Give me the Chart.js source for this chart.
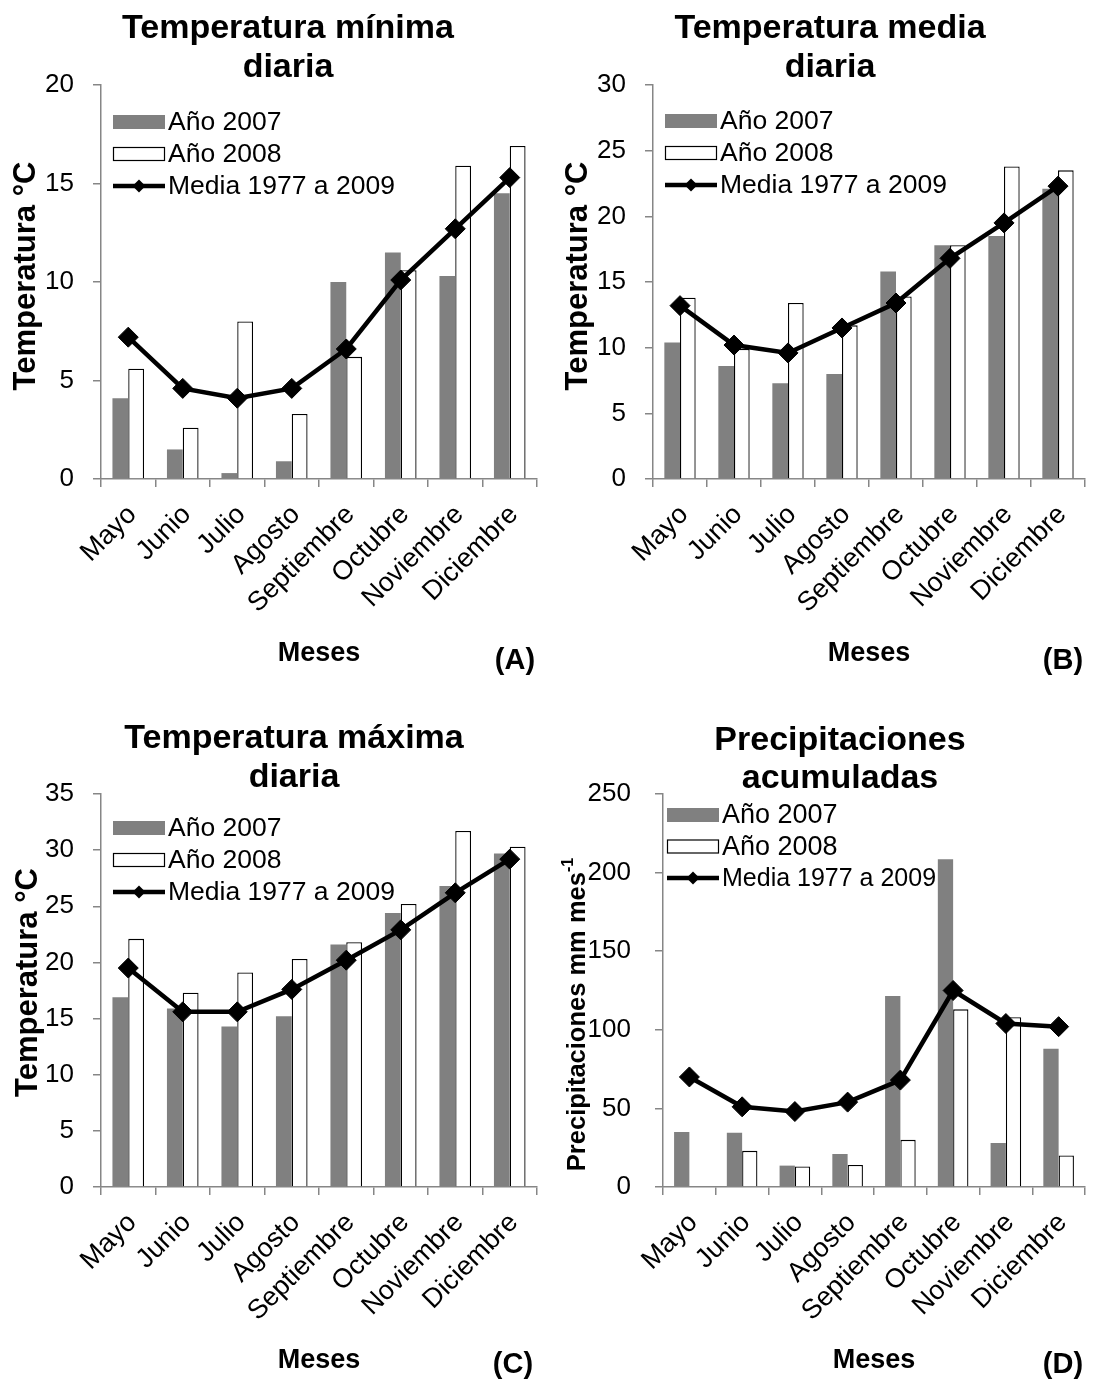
<!DOCTYPE html>
<html><head><meta charset="utf-8">
<script src="https://cdn.jsdelivr.net/npm/chart.js@4.4.1/dist/chart.umd.min.js"></script>
<style>
html,body{margin:0;padding:0;background:#fff;}
#wrap{position:relative;width:1096px;height:1380px;background:#fff;}
.panel{position:absolute;width:548px;height:690px;}
canvas{display:block;}
</style></head><body>
<div id="wrap">
<div class="panel" style="left:0;top:0"><canvas id="cA" width="548" height="690"></canvas></div>
<div class="panel" style="left:548px;top:0"><canvas id="cB" width="548" height="690"></canvas></div>
<div class="panel" style="left:0;top:690px"><canvas id="cC" width="548" height="690"></canvas></div>
<div class="panel" style="left:548px;top:690px"><canvas id="cD" width="548" height="690"></canvas></div>
</div>
<script>
// ---- Data ----
const months = ['Mayo','Junio','Julio','Agosto','Septiembre','Octubre','Noviembre','Diciembre'];
const seriesNames = ['Año 2007','Año 2008','Media 1977 a 2009'];

// (A) Temperatura mínima diaria
const tmin2007 = [4.1, 1.5, 0.3, 0.9, 10.0, 11.5, 10.3, 14.5];
const tmin2008 = [5.6, 2.6, 8.0, 3.3, 6.2, 10.6, 15.9, 16.9];
const tminMedia = [7.2, 4.6, 4.1, 4.6, 6.6, 10.1, 12.7, 15.3];
const tminTicks = [0, 5, 10, 15, 20];

// (B) Temperatura media diaria
const tmed2007 = [10.4, 8.6, 7.3, 8.0, 15.8, 17.8, 18.5, 22.1];
const tmed2008 = [13.8, 9.9, 13.4, 11.7, 13.9, 17.8, 23.8, 23.5];
const tmedMedia = [13.2, 10.2, 9.6, 11.5, 13.4, 16.8, 19.5, 22.3];
const tmedTicks = [0, 5, 10, 15, 20, 25, 30];

// (C) Temperatura máxima diaria
const tmax2007 = [16.9, 15.9, 14.3, 15.2, 21.6, 24.4, 26.8, 29.7];
const tmax2008 = [22.1, 17.3, 19.1, 20.3, 21.8, 25.2, 31.7, 30.3];
const tmaxMedia = [19.5, 15.6, 15.6, 17.6, 20.2, 22.9, 26.2, 29.2];
const tmaxTicks = [0, 5, 10, 15, 20, 25, 30, 35];

// (D) Precipitaciones acumuladas
const pp2007 = [35, 34.5, 13.6, 21, 121.5, 208.5, 28, 88];
const pp2008 = [0, 23, 13, 14, 30, 113, 108, 20];
const ppMedia = [70, 51, 48, 54, 68, 125, 104, 102];
const ppTicks = [0, 50, 100, 150, 200, 250];

// ---- Styling ----
const FONT = '"Liberation Sans", Arial, sans-serif';
const GRAY = '#808080';
const AXIS = '#868686';

const panelTextPlugin = {
  id: 'panelText',
  afterDraw(chart, args, o) {
    const ctx = chart.ctx, ca = chart.chartArea;
    ctx.save();
    ctx.fillStyle = '#000';
    ctx.textAlign = 'center';
    ctx.textBaseline = 'alphabetic';
    ctx.font = 'bold 34px ' + FONT;
    o.title.forEach((t, i) => ctx.fillText(t, o.titleX, o.titleY + i * o.titleGap));
    ctx.font = 'bold 29px ' + FONT;
    ctx.fillText(o.letter, o.letterX, o.letterY);

    // y-axis title (rotated), with optional superscript part
    ctx.save();
    ctx.translate(o.ytX, (ca.top + ca.bottom) / 2 + o.ytDy);
    ctx.rotate(-Math.PI / 2);
    ctx.textAlign = 'left';
    ctx.textBaseline = 'middle';
    let total = 0;
    o.ytParts.forEach(p => { ctx.font = 'bold ' + p.size + 'px ' + FONT; total += ctx.measureText(p.t).width; });
    let x = -total / 2;
    o.ytParts.forEach(p => {
      ctx.font = 'bold ' + p.size + 'px ' + FONT;
      ctx.fillText(p.t, x, p.dy);
      x += ctx.measureText(p.t).width;
    });
    ctx.restore();

    // legend
    const bx = ca.left + o.legX, bw = 52, bh = 14;
    ctx.textAlign = 'left';
    ctx.textBaseline = 'middle';
    o.names.forEach((name, i) => {
      const cy = ca.top + o.legY + i * o.legGap;
      if (i === 0) {
        ctx.fillStyle = GRAY;
        ctx.fillRect(bx, cy - bh / 2, bw, bh);
      } else if (i === 1) {
        ctx.fillStyle = '#fff';
        ctx.fillRect(bx, cy - bh / 2, bw, bh);
        ctx.strokeStyle = '#000';
        ctx.lineWidth = 1.2;
        ctx.strokeRect(bx + 0.5, cy - bh / 2 + 0.5, bw - 1, bh - 1);
      } else {
        ctx.strokeStyle = '#000';
        ctx.lineWidth = 4.5;
        ctx.beginPath(); ctx.moveTo(bx, cy); ctx.lineTo(bx + bw, cy); ctx.stroke();
        const r = 6.5, mx = bx + bw / 2;
        ctx.fillStyle = '#000';
        ctx.beginPath();
        ctx.moveTo(mx - r, cy); ctx.lineTo(mx, cy - r); ctx.lineTo(mx + r, cy); ctx.lineTo(mx, cy + r);
        ctx.closePath(); ctx.fill();
      }
      ctx.fillStyle = '#000';
      ctx.font = o.legFonts[i] + 'px ' + FONT;
      ctx.fillText(name, bx + bw + 3, cy + 1);
    });
    ctx.restore();
  }
};

function makePanel(id, d, L) {
  const ticks = d.ticks;
  new Chart(document.getElementById(id), {
    type: 'bar',
    data: {
      labels: months,
      datasets: [
        { type: 'bar', label: seriesNames[0], data: d.a, backgroundColor: GRAY, borderWidth: 0, order: 2,
          categoryPercentage: 0.58, barPercentage: 1.0 },
        { type: 'bar', label: seriesNames[1], data: d.b, backgroundColor: '#fff', borderColor: '#000',
          borderWidth: 1.3, order: 2, categoryPercentage: 0.58, barPercentage: 1.0 },
        { type: 'line', label: seriesNames[2], data: d.m, borderColor: '#000', backgroundColor: '#000',
          borderWidth: 4.5, tension: 0, pointStyle: 'rectRot', pointRadius: 10, pointBorderWidth: 1,
          pointBackgroundColor: '#000', pointBorderColor: '#000', order: 0 }
      ]
    },
    options: {
      responsive: false,
      animation: false,
      devicePixelRatio: 1,
      layout: { padding: { left: 0, top: L.top, right: 548 - L.right, bottom: 0 } },
      plugins: {
        legend: { display: false },
        tooltip: { enabled: false },
        title: { display: false },
        panelText: {
          title: d.title, titleX: L.titleX, titleY: L.titleY, titleGap: L.titleGap,
          letter: d.letter, letterX: L.letterX, letterY: L.letterY,
          ytParts: d.ytParts, ytX: L.ytX, ytDy: L.ytDy,
          names: seriesNames, legX: L.legX, legY: L.legY, legGap: L.legGap, legFonts: L.legFonts
        }
      },
      scales: {
        x: {
          offset: true,
          grid: { display: true, offset: true, drawOnChartArea: false, drawTicks: true, tickLength: 8,
                  color: AXIS, lineWidth: 1.5 },
          border: { display: true, color: AXIS, width: 1.5 },
          ticks: { color: '#000', font: { family: FONT, size: 27 }, maxRotation: 45, minRotation: 45,
                   autoSkip: false, padding: L.xPad, labelOffset: 4 },
          title: { display: true, text: 'Meses', color: '#000', font: { family: FONT, size: 27, weight: 'bold' },
                   padding: { top: 0, bottom: L.mesesPad } },
          afterFit(s) { s.height = 690 - L.bottom; s.paddingLeft = 0; s.paddingRight = 0; }
        },
        y: {
          min: ticks[0], max: ticks[ticks.length - 1],
          grid: { display: true, drawOnChartArea: false, drawTicks: true, tickLength: 8, color: AXIS, lineWidth: 1.5 },
          border: { display: true, color: AXIS, width: 1.5 },
          ticks: { stepSize: ticks[1] - ticks[0], color: '#000', font: { family: FONT, size: 26 }, padding: L.yPad },
          title: { display: false, text: d.ytParts.map(p => p.t).join('') },
          afterFit(s) { s.width = L.left; s.paddingTop = 0; s.paddingBottom = 0; }
        }
      }
    },
    plugins: [panelTextPlugin]
  });
}

const tempTitle = [{ t: 'Temperatura °C', size: 31, dy: 0 }];

makePanel('cA',
  { a: tmin2007, b: tmin2008, m: tminMedia, ticks: tminTicks, title: ['Temperatura mínima', 'diaria'],
    letter: '(A)', ytParts: tempTitle },
  { left: 101, right: 543, top: 85, bottom: 479, titleX: 288, titleY: 38, titleGap: 39,
    letterX: 515, letterY: 669, ytX: 26, ytDy: -6, legX: 12, legY: 37, legGap: 32, legFonts: [26.5, 26.5, 26.5],
    xPad: 12, mesesPad: 20, yPad: 19 });

makePanel('cB',
  { a: tmed2007, b: tmed2008, m: tmedMedia, ticks: tmedTicks, title: ['Temperatura media', 'diaria'],
    letter: '(B)', ytParts: tempTitle },
  { left: 105, right: 547, top: 85, bottom: 479, titleX: 282, titleY: 38, titleGap: 39,
    letterX: 515, letterY: 669, ytX: 30, ytDy: -6, legX: 12, legY: 36, legGap: 32, legFonts: [26.5, 26.5, 26.5],
    xPad: 12, mesesPad: 20, yPad: 19 });

makePanel('cC',
  { a: tmax2007, b: tmax2008, m: tmaxMedia, ticks: tmaxTicks, title: ['Temperatura máxima', 'diaria'],
    letter: '(C)', ytParts: tempTitle },
  { left: 101, right: 543, top: 104, bottom: 497, titleX: 294, titleY: 58, titleGap: 39,
    letterX: 513, letterY: 683, ytX: 28, ytDy: -8, legX: 12, legY: 34, legGap: 32, legFonts: [26.5, 26.5, 26.5],
    xPad: 12, mesesPad: 3, yPad: 19 });

makePanel('cD',
  { a: pp2007, b: pp2008, m: ppMedia, ticks: ppTicks, title: ['Precipitaciones', 'acumuladas'],
    letter: '(D)', ytParts: [{ t: 'Precipitaciones mm mes', size: 25.5, dy: 0 }, { t: '-1', size: 16, dy: -9 }] },
  { left: 115, right: 547, top: 104, bottom: 497, titleX: 292, titleY: 60, titleGap: 38,
    letterX: 515, letterY: 683, ytX: 30, ytDy: 24, legX: 4, legY: 21, legGap: 31.5, legFonts: [27, 27, 25],
    xPad: 12, mesesPad: 3, yPad: 24 });
</script>
</body></html>
